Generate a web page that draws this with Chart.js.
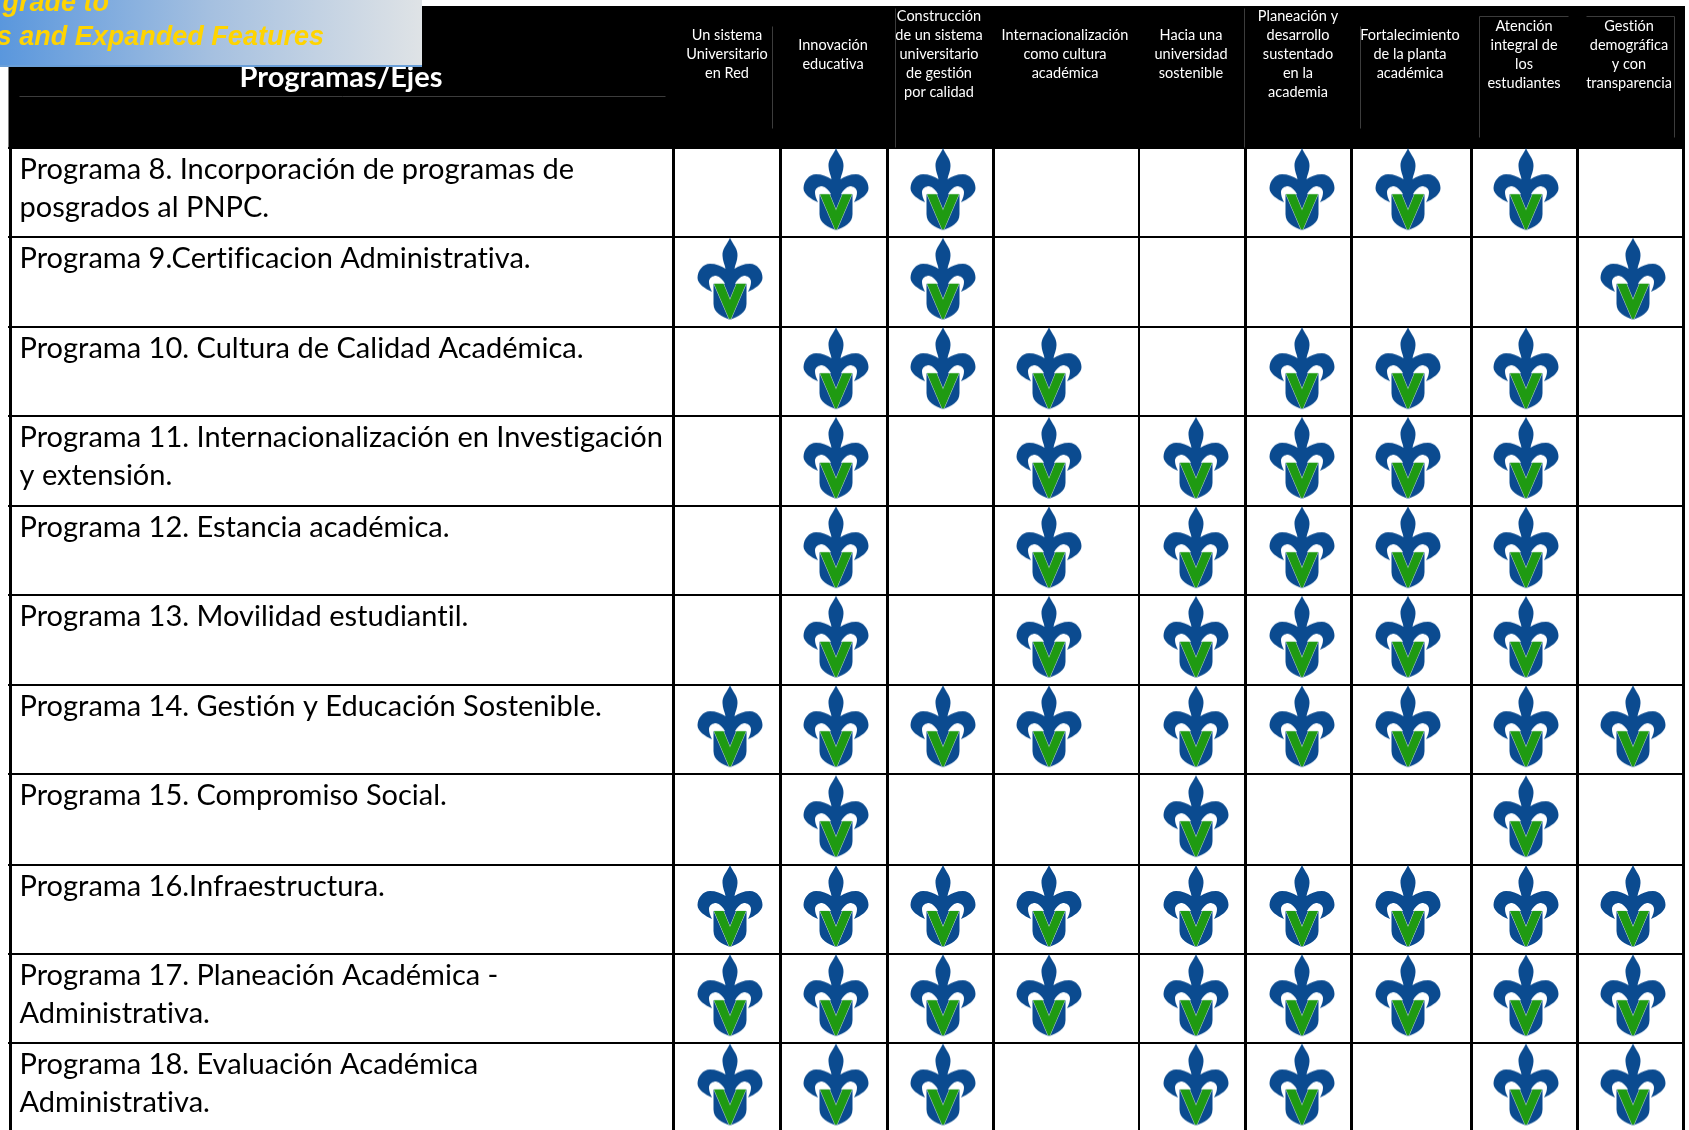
<!DOCTYPE html>
<html lang="es">
<head>
<meta charset="utf-8">
<style>
  html, body { margin: 0; padding: 0; background: #fff; overflow: hidden; }
  #wrap { width: 1689px; height: 1130px; position: relative; }
</style>
<script src="https://cdn.jsdelivr.net/npm/chart.js@4/dist/chart.umd.js"></script>
</head>
<body>
<div id="wrap"><canvas id="ejes-chart" width="1689" height="1130"></canvas></div>
<script>
const axisLabels = [
  ["Un sistema", "Universitario", "en Red"],
  ["Innovación", "educativa"],
  ["Construcción", "de un sistema", "universitario", "de gestión", "por calidad"],
  ["Internacionalización", "como cultura", "académica"],
  ["Hacia una", "universidad", "sostenible"],
  ["Planeación y", "desarrollo", "sustentado", "en la", "academia"],
  ["Fortalecimiento", "de la planta", "académica"],
  ["Atención", "integral de", "los", "estudiantes"],
  ["Gestión", "demográfica", "y con", "transparencia"],
];

const programLabels = [
  ["Programa 8. Incorporación de programas de", "posgrados al PNPC."],
  ["Programa 9.Certificacion Administrativa."],
  ["Programa 10. Cultura de Calidad Académica."],
  ["Programa 11. Internacionalización en Investigación", "y extensión."],
  ["Programa 12. Estancia académica."],
  ["Programa 13. Movilidad estudiantil."],
  ["Programa 14. Gestión y Educación Sostenible."],
  ["Programa 15. Compromiso Social."],
  ["Programa 16.Infraestructura."],
  ["Programa 17. Planeación Académica -", "Administrativa."],
  ["Programa 18. Evaluación Académica", "Administrativa."],
];

const cornerLabel = "Programas/Ejes";

// 1 = the program has the logo under that axis
const program8 = [0, 1, 1, 0, 0, 1, 1, 1, 0];
const program9 = [1, 0, 1, 0, 0, 0, 0, 0, 1];
const program10 = [0, 1, 1, 1, 0, 1, 1, 1, 0];
const program11 = [0, 1, 0, 1, 1, 1, 1, 1, 0];
const program12 = [0, 1, 0, 1, 1, 1, 1, 1, 0];
const program13 = [0, 1, 0, 1, 1, 1, 1, 1, 0];
const program14 = [1, 1, 1, 1, 1, 1, 1, 1, 1];
const program15 = [0, 1, 0, 0, 1, 0, 0, 1, 0];
const program16 = [1, 1, 1, 1, 1, 1, 1, 1, 1];
const program17 = [1, 1, 1, 1, 1, 1, 1, 1, 1];
const program18 = [1, 1, 1, 0, 1, 1, 0, 1, 1];
const programMarks = [
  program8, program9, program10, program11, program12, program13,
  program14, program15, program16, program17, program18,
];

// layout: where the uneven table columns and rows fall on the page
const columnEdges = [10, 673, 780, 887, 993, 1138.5, 1245, 1351, 1471, 1577, 1683];
const columnLogoCenters = [730, 836, 943, 1049, 1196, 1302, 1408, 1526, 1633];
const columnTextCenters = [727, 833, 939, 1065, 1191, 1298, 1410, 1524, 1629];
const columnLineWidths = [3, 3, 3, 3, 3, 2, 3, 3, 3, 3, 3];
const rowEdges = [6, 147.5, 237, 326.5, 416, 505.5, 595, 684.5, 774, 864.5, 953.5, 1043, 1132];
const headerRules = [
  [19, 96, 665, 96], [772, 26, 772, 128], [895, 8, 895, 147], [1244, 8, 1244, 147],
  [1360, 26, 1360, 128], [1479, 16, 1479, 137], [1479, 16, 1568, 16],
  [1586, 16, 1674, 16], [1674, 16, 1674, 137],
];

// table axis: index values map onto a ruler of page positions instead of a straight line
class RulerScale extends Chart.LinearScale {
  static id = "ruler";
  static defaults = Chart.LinearScale.defaults;
  getPixelForValue(value) {
    const stops = this.options.stops;
    for (let i = 1; i < stops.length; i++) {
      if (value <= stops[i][0]) {
        const [v0, p0] = stops[i - 1];
        const [v1, p1] = stops[i];
        return p0 + ((value - v0) / (v1 - v0)) * (p1 - p0);
      }
    }
    return stops[stops.length - 1][1];
  }
}
Chart.register(RulerScale);

const xStops = [];
columnEdges.forEach((edge, i) => {
  xStops.push([i - 1, edge]);
  if (i >= 1 && i <= columnLogoCenters.length) xStops.push([i - 0.5, columnLogoCenters[i - 1]]);
});
const yStops = rowEdges.map((edge, i) => [i - 1, edge]);

function makeLogo() {
  const c = document.createElement("canvas");
  c.width = 80;
  c.height = 100;
  const g = c.getContext("2d");
  g.translate(40, 6);
  g.filter = "blur(0.35px)";

  const half = (side) => {
    const s = side;
    g.moveTo(0, 0);
    g.bezierCurveTo(s * 3, 7, s * 8, 11, s * 7.5, 18);
    g.bezierCurveTo(s * 7.5, 23, s * 5, 27, s * 4.5, 31);
    g.bezierCurveTo(s * 9, 28, s * 14, 26, s * 20, 26);
    g.bezierCurveTo(s * 27, 26, s * 32.5, 33, s * 32.5, 40);
    g.bezierCurveTo(s * 32.5, 46, s * 25, 51, s * 18, 54);
    g.bezierCurveTo(s * 20, 50, s * 21, 47, s * 21, 44);
    g.bezierCurveTo(s * 21, 40, s * 17, 38, s * 14, 38);
    g.bezierCurveTo(s * 10, 39, s * 7, 42, s * 5, 46);
    g.lineTo(0, 46);
    g.closePath();
  };

  g.fillStyle = "#0b4b90";
  g.beginPath();
  half(-1);
  half(1);
  g.fill();

  // shield
  g.beginPath();
  g.moveTo(-16.5, 46);
  g.lineTo(16.5, 46);
  g.lineTo(16.5, 66);
  g.bezierCurveTo(16.5, 75, 8, 79, 0, 82);
  g.bezierCurveTo(-8, 79, -16.5, 75, -16.5, 66);
  g.closePath();
  g.fill();

  // green V with a pale outline
  g.beginPath();
  g.moveTo(-16, 46);
  g.lineTo(-6.5, 46);
  g.lineTo(0, 62);
  g.lineTo(6.5, 46);
  g.lineTo(16, 46);
  g.lineTo(1, 81);
  g.lineTo(-1, 81);
  g.closePath();
  g.fillStyle = "#1f9a12";
  g.strokeStyle = "#cfe6dc";
  g.lineWidth = 1;
  g.stroke();
  g.fill();
  return c;
}

const tablePlugin = {
  id: "tablePlugin",
  beforeDraw(chart) {
    const { ctx, scales, chartArea } = chart;
    const { x, y } = scales;
    ctx.save();
    ctx.fillStyle = "#fff";
    ctx.fillRect(0, 0, chart.width, chart.height);
    ctx.fillStyle = "#000";
    const left = x.getPixelForValue(-1) - 1.5;
    const top = y.getPixelForValue(-1);
    ctx.fillRect(left, top, chartArea.right - left, y.getPixelForValue(0) - top);
    ctx.restore();
  },
  afterDraw(chart) {
    const { ctx, scales } = chart;
    const { y } = scales;
    ctx.save();

    ctx.strokeStyle = "#3c3c3c";
    ctx.lineWidth = 1;
    headerRules.forEach(([x1, y1, x2, y2]) => {
      ctx.beginPath();
      ctx.moveTo(x1 + 0.5, y1 + 0.5);
      ctx.lineTo(x2 + 0.5, y2 + 0.5);
      ctx.stroke();
    });

    // axis names, centred around the same height in the black band
    ctx.fillStyle = "#fff";
    ctx.textAlign = "center";
    ctx.textBaseline = "middle";
    ctx.font = "14.5px Lato";
    ctx.letterSpacing = "0.01px";
    axisLabels.forEach((lines, i) => {
      lines.forEach((line, j) => {
        const cy = 54.5 + (j - (lines.length - 1) / 2) * 19;
        ctx.fillText(line, columnTextCenters[i], cy);
      });
    });

    ctx.font = "bold 29px Lato";
    ctx.textBaseline = "alphabetic";
    ctx.fillText(cornerLabel, 341, 87);

    ctx.fillStyle = "#000";
    ctx.textAlign = "left";
    ctx.font = "29px Lato";
    programLabels.forEach((lines, i) => {
      const rowTop = y.getPixelForValue(i);
      lines.forEach((line, j) => ctx.fillText(line, 19.5, rowTop + 31 + j * 38));
    });

    // banner stamped over the top-left corner
    const grad = ctx.createLinearGradient(0, 0, 422, 0);
    grad.addColorStop(0, "#5a97dd");
    grad.addColorStop(0.5, "#a5c0e0");
    grad.addColorStop(1, "#dfe3e6");
    ctx.fillStyle = grad;
    ctx.fillRect(0, 0, 422, 66);
    ctx.fillStyle = "#6a9fd8";
    ctx.fillRect(0, 65, 422, 2);
    ctx.fillStyle = "#ffd400";
    ctx.textAlign = "right";
    ctx.font = 'italic bold 27px "Liberation Sans"';
    ctx.fillText("grade to", 109, 11);
    ctx.fillText("s and Expanded Features", 324, 45);
    ctx.restore();
  },
};

const logo = makeLogo();
const points = [];
programMarks.forEach((marks, row) => {
  marks.forEach((has, col) => {
    if (has) points.push({ x: col + 0.5, y: row + 0.5 });
  });
});

new Chart(document.getElementById("ejes-chart"), {
  type: "scatter",
  data: {
    datasets: [{ data: points, pointStyle: logo, clip: false }],
  },
  options: {
    responsive: false,
    animation: false,
    layout: { autoPadding: false, padding: { left: 8, top: 6, right: 5, bottom: 0 } },
    plugins: { legend: { display: false }, tooltip: { enabled: false } },
    scales: {
      x: {
        type: "ruler",
        stops: xStops,
        min: -1,
        max: 9,
        ticks: { display: false, stepSize: 1 },
        border: { display: false },
        grid: {
          color: "#000",
          drawTicks: false,
          lineWidth: (ctx) => columnLineWidths[ctx.index] || 3,
        },
      },
      y: {
        type: "ruler",
        stops: yStops,
        min: -1,
        max: 11,
        ticks: { display: false, stepSize: 1 },
        border: { display: false },
        grid: {
          color: "#000",
          drawTicks: false,
          lineWidth: (ctx) => (ctx.index === 0 ? 0 : 2),
        },
      },
    },
  },
  plugins: [tablePlugin],
});
</script>
</body>
</html>
